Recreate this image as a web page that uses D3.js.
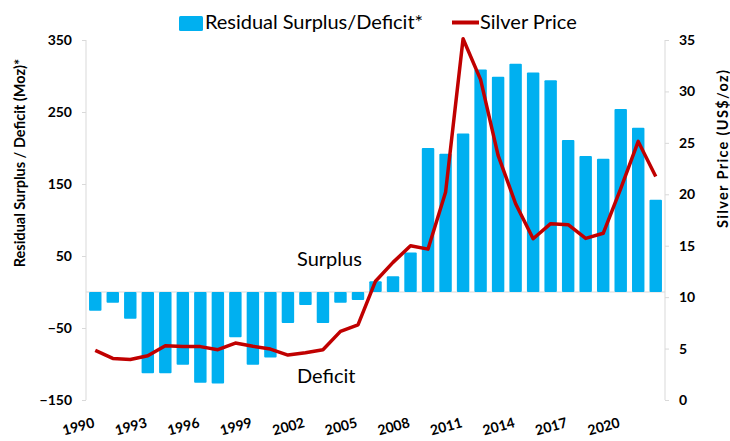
<!DOCTYPE html>
<html>
<head>
<meta charset="utf-8">
<script src="https://cdn.jsdelivr.net/npm/d3@7"></script>
<style>
  body { margin: 0; background: #fff; }
  text { font-family: Lato, "Open Sans", sans-serif; fill: #000; }
</style>
</head>
<body>
<div id="container"></div>
<script>
let w = 730;
let h = 441;

// data
let years = d3.range(1990, 2023);
let surplus = [-26, -15, -37, -113, -113, -101, -126, -127, -63, -101, -91, -43,
               -18, -43, -15, -11, 15, 22, 55, 200, 192, 220, 309, 299, 317, 305,
               294, 211, 189, 185, 254, 228, 128];
let price = [4.82, 4.04, 3.94, 4.30, 5.28, 5.20, 5.19, 4.89, 5.54, 5.22, 4.95, 4.37,
             4.60, 4.88, 6.67, 7.31, 11.55, 13.38, 14.99, 14.67, 20.19, 35.12, 31.15,
             23.79, 19.08, 15.68, 17.14, 17.05, 15.71, 16.21, 20.55, 25.14, 21.73];
let leftTicks = [-150, -50, 50, 150, 250, 350];
let rightTicks = [0, 5, 10, 15, 20, 25, 30, 35];
let xLabels = [1990, 1993, 1996, 1999, 2002, 2005, 2008, 2011, 2014, 2017, 2020];

let barColor = '#00b0f0';
let lineColor = '#c00000';
let axisGrey = '#d9d9d9';

let svg = d3.select('#container').append('svg')
            .attr('width', w)
            .attr('height', h);

let x = d3.scaleBand()
          .domain(years)
          .range([86.5, 664.5])
          .paddingInner(0.29)
          .paddingOuter(0.145);

let yL = d3.scaleLinear().domain([-150, 350]).range([400, 40]);
let yR = d3.scaleLinear().domain([0, 35]).range([400, 40]);

// axes
let leftAxis = d3.axisLeft(yL).tickValues(leftTicks).tickSize(4).tickPadding(10);
let gL = svg.append('g').attr('transform', 'translate(86,0)').call(leftAxis);
gL.select('.domain').attr('stroke', axisGrey).attr('d', 'M0,40V400');
gL.selectAll('.tick line').attr('stroke', axisGrey);
gL.selectAll('.tick text').attr('font-size', 14).attr('font-weight', 'bold')
  .attr('font-family', 'Lato, sans-serif');

let rightAxis = d3.axisRight(yR).tickValues(rightTicks).tickSize(4).tickPadding(10);
let gR = svg.append('g').attr('transform', 'translate(665,0)').call(rightAxis);
gR.select('.domain').attr('stroke', axisGrey).attr('d', 'M0,40V400');
gR.selectAll('.tick line').attr('stroke', axisGrey);
gR.selectAll('.tick text').attr('font-size', 14).attr('font-weight', 'bold')
  .attr('font-family', 'Lato, sans-serif');

// zero line
svg.append('line')
   .attr('x1', 86).attr('x2', 665)
   .attr('y1', yL(0)).attr('y2', yL(0))
   .attr('stroke', axisGrey);

// bars
svg.append('g')
   .selectAll('rect')
   .data(years.map((d, i) => ({ year: d, v: surplus[i] })))
   .enter()
   .append('rect')
   .attr('x', d => x(d.year))
   .attr('width', x.bandwidth())
   .attr('y', d => yL(Math.max(0, d.v)))
   .attr('height', d => Math.abs(yL(d.v) - yL(0)))
   .attr('rx', 1)
   .attr('fill', barColor);

// price line
let line = d3.line()
             .x((d, i) => x(years[i]) + x.bandwidth() / 2)
             .y(d => yR(d));

svg.append('path')
   .datum(price)
   .attr('d', line)
   .attr('fill', 'none')
   .attr('stroke', lineColor)
   .attr('stroke-width', 3.5)
   .attr('stroke-linejoin', 'round');

// x labels, end anchored at the bar centre and tilted
svg.append('g')
   .selectAll('text')
   .data(xLabels)
   .enter()
   .append('text')
   .attr('transform', d => 'translate(' + (x(d) + x.bandwidth() / 2) + ',427) rotate(-15)')
   .attr('text-anchor', 'end')
   .attr('font-size', 14)
   .attr('font-weight', 'bold')
   .text(d => d);

// axis titles
svg.append('text')
   .attr('transform', 'translate(25,163) rotate(-90)')
   .attr('text-anchor', 'middle')
   .attr('font-size', 14.5)
   .attr('font-weight', 'bold')
   .text('Residual Surplus / Deficit (Moz)*');

svg.append('text')
   .attr('transform', 'translate(728,149) rotate(-90)')
   .attr('text-anchor', 'middle')
   .attr('font-size', 14.5)
   .attr('font-weight', 'bold')
   .attr('textLength', 158)
   .text('Silver Price (US$/oz)');

// annotations
svg.append('text').attr('x', 297).attr('y', 266).attr('font-size', 20).text('Surplus');
svg.append('text').attr('x', 297).attr('y', 383).attr('font-size', 20).text('Deficit');

// legend
let leg = svg.append('g');
leg.append('rect').attr('x', 179).attr('y', 16).attr('width', 24).attr('height', 15)
   .attr('rx', 1.5).attr('fill', barColor);
leg.append('text').attr('x', 205).attr('y', 29).attr('font-size', 20)
   .attr('textLength', 218)
   .text('Residual Surplus/Deficit*');
leg.append('line').attr('x1', 452).attr('x2', 479).attr('y1', 22.5).attr('y2', 22.5)
   .attr('stroke', lineColor).attr('stroke-width', 4);
leg.append('text').attr('x', 480).attr('y', 29).attr('font-size', 20)
   .text('Silver Price');
</script>
</body>
</html>
